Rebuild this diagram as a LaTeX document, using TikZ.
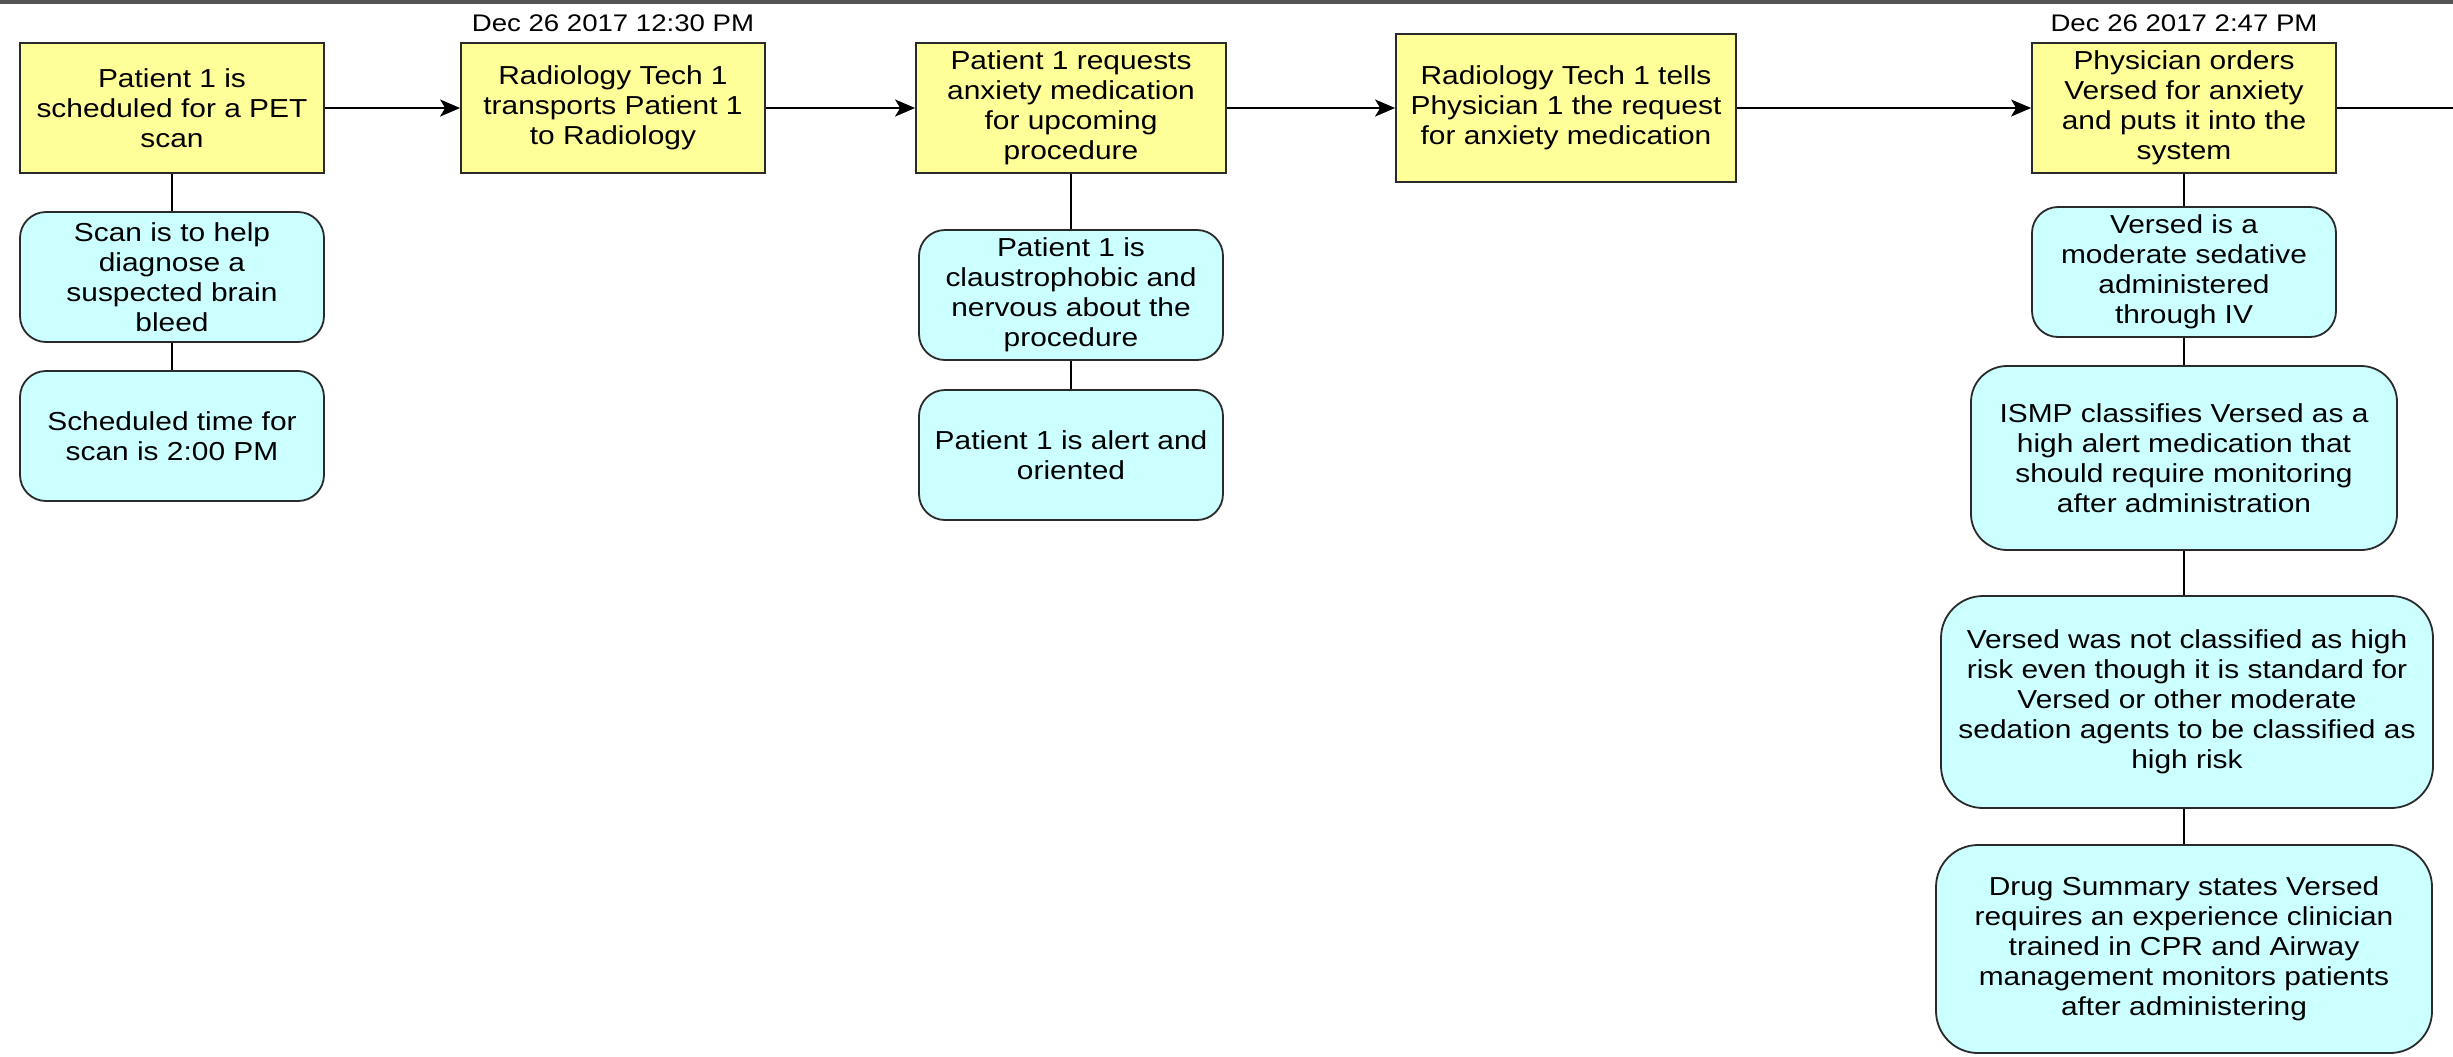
\documentclass[tikz,border=0pt]{standalone}
\usepackage{fontspec}
\setmainfont[FakeStretch=1.15]{Liberation Sans}
\usetikzlibrary{arrows.meta}

\definecolor{evfill}{HTML}{FFFF99}
\definecolor{notefill}{HTML}{CCFFFF}
\definecolor{edge}{HTML}{2A2A2A}
\definecolor{topbar}{HTML}{555555}

\tikzset{
  dims/.style n args={2}{minimum width=#1*0.5pt, minimum height=#2*0.5pt},
  boxtext/.style={align=center, inner sep=0pt, text=black,
    font=\fontsize{13pt}{15pt}\selectfont},
  event/.style={boxtext, draw=edge, line width=0.9pt, fill=evfill},
  note/.style={boxtext, draw=edge, line width=0.9pt, fill=notefill, rounded corners=#1},
  note/.default=13pt,
  datelbl/.style={inner sep=0pt, anchor=base, font=\fontsize{12pt}{14pt}\selectfont},
  flow/.style={draw=black, line width=0.9pt, -{Stealth[length=10pt,width=8.5pt,inset=2.5pt]}},
  link/.style={draw=black, line width=0.9pt},
}

\begin{document}
\begin{tikzpicture}[x=0.5pt,y=-0.5pt]
\useasboundingbox (0,0) rectangle (2453,1056);
\fill[white] (0,0) rectangle (2453,1056);
\fill[topbar] (0,0) rectangle (2453,3.5);

% timestamps
\node[datelbl] (t1) at (613,31) {Dec 26 2017 12:30 PM};
\node[datelbl] (t2) at (2184,31) {Dec 26 2017 2:47 PM};

% main sequence of events
\node[event, dims={304}{130}] (e1) at (172,108) {Patient 1 is\\scheduled for a PET\\scan};
\node[event, dims={304}{130}] (e2) at (613,108) {Radiology Tech 1\\transports Patient 1\\to Radiology};
\node[event, dims={310}{130}] (e3) at (1071,108) {Patient 1 requests\\anxiety medication\\for upcoming\\procedure};
\node[event, dims={340}{148}] (e4) at (1566,108) {Radiology Tech 1 tells\\Physician 1 the request\\for anxiety medication};
\node[event, dims={304}{130}] (e5) at (2184,108) {Physician orders\\Versed for anxiety\\and puts it into the\\system};
\coordinate (out) at (2453,108);

% notes under event 1
\node[note, dims={304}{130}] (n1a) at (172,277) {Scan is to help\\diagnose a\\suspected brain\\bleed};
\node[note, dims={304}{130}] (n1b) at (172,436) {Scheduled time for\\scan is 2:00 PM};

% notes under event 3
\node[note, dims={304}{130}] (n3a) at (1071,295) {Patient 1 is\\claustrophobic and\\nervous about the\\procedure};
\node[note, dims={304}{130}] (n3b) at (1071,455) {Patient 1 is alert and\\oriented};

% notes under event 5
\node[note, dims={304}{130}] (n5a) at (2184,272) {Versed is a\\moderate sedative\\administered\\through IV};
\node[note=18pt, dims={426}{184}] (n5b) at (2184,458) {ISMP classifies Versed as a\\high alert medication that\\should require monitoring\\after administration};
\node[note=21pt, dims={492}{212}] (n5c) at (2187,702) {Versed was not classified as high\\risk even though it is standard for\\Versed or other moderate\\sedation agents to be classified as\\high risk};
\node[note=21pt, dims={496}{208}] (n5d) at (2184,949) {Drug Summary states Versed\\requires an experience clinician\\trained in CPR and Airway\\management monitors patients\\after administering};

% timeline arrows
\draw[flow] (e1) -- (e2);
\draw[flow] (e2) -- (e3);
\draw[flow] (e3) -- (e4);
\draw[flow] (e4) -- (e5);
\draw[link] (e5.east) -- (out);

% note chains
\draw[link] (e1) -- (n1a);
\draw[link] (n1a) -- (n1b);
\draw[link] (e3) -- (n3a);
\draw[link] (n3a) -- (n3b);
\draw[link] (e5) -- (n5a);
\draw[link] (n5a) -- (n5b);
\draw[link] (n5b.south) -- (n5b.south |- n5c.north);
\draw[link] (n5c.south -| n5d.north) -- (n5d.north);
\end{tikzpicture}
\end{document}
